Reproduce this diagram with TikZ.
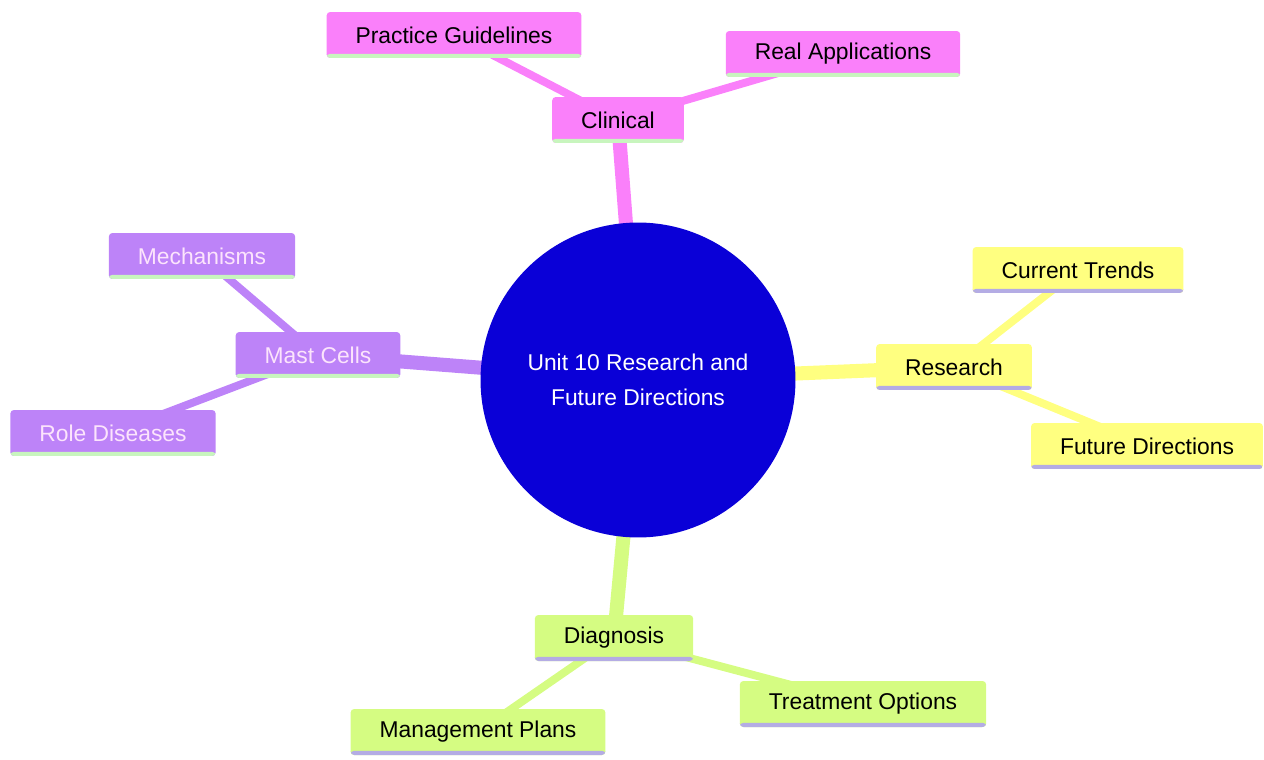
\documentclass[tikz,border=0pt]{standalone}
\usepackage{fontspec}
\setmainfont{Liberation Sans}
\usetikzlibrary{backgrounds}

\definecolor{blueroot}{RGB}{10,0,215}
\definecolor{pinkC}{RGB}{250,128,250}
\definecolor{yellowC}{RGB}{255,255,128}
\definecolor{purpleC}{RGB}{189,131,248}
\definecolor{greenC}{RGB}{213,252,130}
\definecolor{mintline}{RGB}{200,245,190}
\definecolor{lavline}{RGB}{180,172,228}
\definecolor{palepink}{RGB}{252,228,252}

\begin{document}
\begin{tikzpicture}[x=0.02cm,y=-0.02cm,font=\fontsize{13}{15}\selectfont]
  \tikzstyle{root}=[circle,fill=blueroot,text=white,minimum size=6.3cm,align=center,font=\fontsize{13}{20}\selectfont]
  \tikzstyle{box}=[rectangle,rounded corners=2pt,minimum height=0.92cm,inner xsep=0.58cm,text=black]
  \tikzstyle{under}=[path picture={\fill[#1] ([yshift=2.4pt]path picture bounding box.south west) rectangle (path picture bounding box.south east);}]
  \tikzstyle{pinkbox}=[box,fill=pinkC,under=mintline]
  \tikzstyle{yellowbox}=[box,fill=yellowC,under=lavline]
  \tikzstyle{purplebox}=[box,fill=purpleC,under=mintline,text=palepink]
  \tikzstyle{greenbox}=[box,fill=greenC,under=lavline]
  \tikzstyle{main}=[line width=8pt]
  \tikzstyle{sub}=[line width=4.5pt]

  \useasboundingbox (0,0) rectangle (1264,760);

  \node[root]      (U)  at (638,380) {Unit 10 Research and\\Future Directions};

  \node[pinkbox]   (CL) at (618,120) {Clinical};
  \node[pinkbox]   (PG) at (454,35)  {Practice Guidelines};
  \node[pinkbox]   (RA) at (843,54)  {Real Applications};

  \node[yellowbox] (RE) at (954,367)  {Research};
  \node[yellowbox] (CT) at (1078,270) {Current Trends};
  \node[yellowbox] (FD) at (1147,446) {Future Directions};

  \node[greenbox]  (DI) at (614,638) {Diagnosis};
  \node[greenbox]  (MP) at (478,732) {Management Plans};
  \node[greenbox]  (TO) at (863,704) {Treatment Options};

  \node[purplebox] (MC) at (318,355) {Mast Cells};
  \node[purplebox] (ME) at (202,256) {Mechanisms};
  \node[purplebox] (RD) at (113,433) {Role Diseases};

  \begin{pgfonlayer}{background}
    \path (U.center) edge [main,pinkC]   (CL.center)
                     edge [main,yellowC] (RE.center)
                     edge [main,greenC]  (DI.center)
                     edge [main,purpleC] (MC.center)
          (CL.center) edge [sub,pinkC]   (PG.center)
                      edge [sub,pinkC]   (RA.center)
          (RE.center) edge [sub,yellowC] (CT.center)
                      edge [sub,yellowC] (FD.center)
          (DI.center) edge [sub,greenC]  (MP.center)
                      edge [sub,greenC]  (TO.center)
          (MC.center) edge [sub,purpleC] (ME.center)
                      edge [sub,purpleC] (RD.center);
  \end{pgfonlayer}
\end{tikzpicture}
\end{document}
